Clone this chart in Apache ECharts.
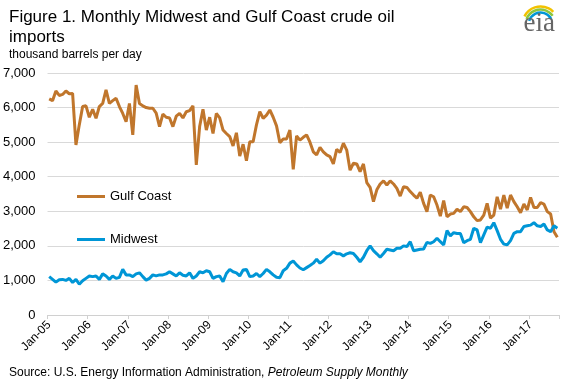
<!DOCTYPE html>
<html><head><meta charset="utf-8">
<script src="https://cdn.jsdelivr.net/npm/echarts@6/dist/echarts.min.js"></script>
<style>html,body{margin:0;padding:0;background:#fff}#c{width:576px;height:384px}</style>
</head><body><div id="c"></div>
<script>
const monthNames = ['Jan','Feb','Mar','Apr','May','Jun','Jul','Aug','Sep','Oct','Nov','Dec'];
const years = ['05','06','07','08','09','10','11','12','13','14','15','16','17'];
const lastMonthCount = 9; // Jan-17 .. Sep-17
const yTicks = [0,1000,2000,3000,4000,5000,6000,7000];

const gulfCoast = [
6250,6200,6480,6350,6380,6480,6400,6410,4920,5500,6030,6050,
5720,5950,5690,6030,6120,6510,6120,6200,6270,6030,5830,5590,
6120,5210,6650,6120,6050,6000,5980,5980,5840,5450,5810,5720,
5700,5450,5750,5830,5700,5880,5910,6050,4340,5450,5950,5350,
5720,5250,5830,5700,5350,5250,5160,4890,5270,4600,4940,4460,
5010,5010,5500,5880,5690,5780,5930,5720,5470,4980,5090,5090,
5350,4210,5180,5060,5140,5210,5000,4720,4630,4850,4720,4630,
4580,4370,4790,4700,4970,4770,4190,4390,4370,4150,4370,3830,
3690,3280,3620,3790,3880,3760,3880,3790,3660,3440,3710,3690,
3570,3470,3380,3550,3230,2990,3470,3420,3180,2860,3310,2840,
2920,2940,3060,2990,3130,3110,2990,2840,2730,2750,2890,3230,
2800,2890,3420,3060,3470,3090,3470,3280,3130,2960,3210,3040,
3400,3110,3110,3250,3210,2990,2920,2410,2250
];
const midwest = [
1110,1030,950,1020,1030,1000,1060,940,1030,890,990,1060,
1130,1110,1130,1030,1190,1130,1030,1130,1060,1090,1320,1160,
1160,1110,1190,1220,1110,1010,1060,1160,1130,1160,1160,1190,
1250,1190,1130,1220,1150,1130,1220,1060,1130,1250,1220,1280,
1250,1060,1110,1130,960,1200,1320,1250,1220,1130,1300,1320,
1110,1130,1200,1110,1200,1320,1250,1160,1090,1080,1280,1350,
1500,1560,1450,1360,1310,1370,1430,1500,1610,1500,1570,1670,
1740,1830,1770,1770,1710,1770,1800,1780,1670,1540,1670,1860,
2000,1860,1770,1670,1780,1900,1880,1860,1930,1930,2000,1980,
2120,1860,1880,1900,1910,2100,2070,2120,2220,2120,2030,2440,
2290,2380,2360,2360,2090,2150,2190,2510,2460,2090,2320,2540,
2510,2670,2440,2190,2050,2030,2150,2360,2410,2410,2560,2580,
2600,2670,2580,2560,2630,2460,2410,2580,2510
];

const categories = [];
years.forEach((y, yi) => {
  const n = yi === years.length - 1 ? lastMonthCount : 12;
  for (let m = 0; m < n; m++) categories.push(monthNames[m] + '-' + y);
});

const FONT = '"Liberation Sans", Arial, sans-serif';
const chart = echarts.init(document.getElementById('c'), null, {renderer: 'canvas'});
chart.setOption({
  animation: false,
  backgroundColor: '#fff',
  title: [
    { text: 'Figure 1. Monthly Midwest and Gulf Coast crude oil\nimports', left: 4, top: 2,
      textStyle: { fontFamily: FONT, fontSize: 17, fontWeight: 'normal', color: '#000', lineHeight: 20 } },
    { text: 'thousand barrels per day', left: 4, top: 44,
      textStyle: { fontFamily: FONT, fontSize: 12, fontWeight: 'normal', color: '#000' } },
    { text: '{a|Source: U.S. Energy Information Administration, }{b|Petroleum Supply Monthly}', left: 4, top: 362,
      textStyle: { fontWeight: 'normal', rich: {
        a: { fontFamily: FONT, fontSize: 12, color: '#000', fontWeight: 'normal' },
        b: { fontFamily: FONT, fontSize: 12, color: '#000', fontWeight: 'normal', fontStyle: 'italic' } } } }
  ],
  grid: { left: 46, right: 17, top: 73, bottom: 69 },
  legend: [
    { data: ['Gulf Coast'], left: 72, top: 185, icon: 'rect', itemWidth: 28, itemHeight: 3,
      textStyle: { fontFamily: FONT, fontSize: 13, color: '#000' } },
    { data: ['Midwest'], left: 72, top: 228, icon: 'rect', itemWidth: 28, itemHeight: 3,
      textStyle: { fontFamily: FONT, fontSize: 13, color: '#000' } }
  ],
  xAxis: {
    type: 'category', data: categories, boundaryGap: true,
    axisLine: { lineStyle: { color: '#d0d0d0', width: 1 } },
    axisTick: { show: true, length: 4, interval: (i) => i % 12 === 0, lineStyle: { color: '#d0d0d0' } },
    axisLabel: { interval: (i) => i % 12 === 0, rotate: 45, margin: 8,
      fontFamily: FONT, fontSize: 12, color: '#000' }
  },
  yAxis: {
    type: 'value', min: 0, max: 7000, interval: 1000,
    axisLine: { show: false }, axisTick: { show: false },
    splitLine: { lineStyle: { color: '#d9d9d9', width: 1 } },
    axisLabel: { fontFamily: FONT, fontSize: 13, color: '#000', margin: 12,
      formatter: (v) => v.toLocaleString('en-US') }
  },
  series: [
    { name: 'Gulf Coast', type: 'line', data: gulfCoast, symbol: 'none', color: '#C0762C',
      lineStyle: { width: 3, color: '#C0762C' } },
    { name: 'Midwest', type: 'line', data: midwest, symbol: 'none', color: '#0096D6',
      lineStyle: { width: 3, color: '#0096D6' } }
  ],
  graphic: [
    { type: 'group', left: 522, top: 4, children: [
      { type: 'arc', shape: { cx: 20, cy: 22, r: 18, startAngle: Math.PI * 1.15, endAngle: Math.PI * 1.75 },
        style: { stroke: '#F2C200', lineWidth: 2.5, fill: null } },
      { type: 'arc', shape: { cx: 20, cy: 22, r: 15, startAngle: Math.PI * 1.12, endAngle: Math.PI * 1.8 },
        style: { stroke: '#8DC63F', lineWidth: 2.5, fill: null } },
      { type: 'arc', shape: { cx: 20, cy: 22, r: 12, startAngle: Math.PI * 1.1, endAngle: Math.PI * 1.85 },
        style: { stroke: '#0096D6', lineWidth: 2.5, fill: null } },
      { type: 'text', x: 3, y: 8, style: { text: 'eia', fontFamily: '"Liberation Serif", "DejaVu Serif", serif',
        fontSize: 27, fill: '#666' } }
    ] }
  ]
});
</script></body></html>
